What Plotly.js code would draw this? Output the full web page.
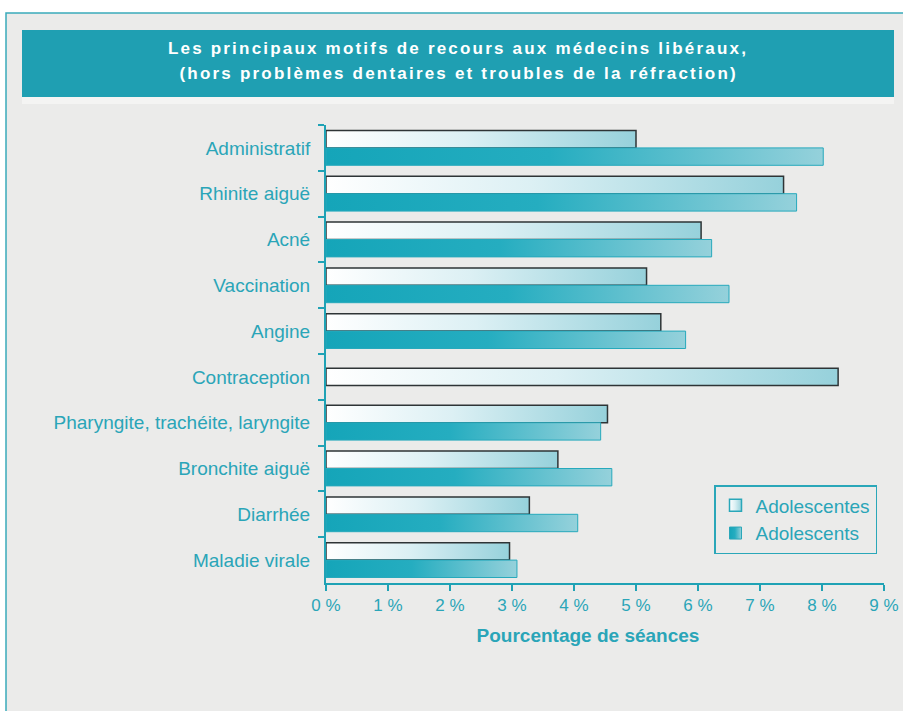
<!DOCTYPE html>
<html>
<head>
<meta charset="utf-8">
<script src="https://cdn.plot.ly/plotly-3.0.1.min.js"></script>
<style>
html,body{margin:0;padding:0;background:#ffffff;}
#chart .g-gtitle text, #chart .annotation[data-index="0"] text{letter-spacing:2.2px;}
</style>
</head>
<body>
<div id="chart" style="width:903px;height:711px;"></div>
<script>
// ---- data ----
const categories = [
  'Administratif',
  'Rhinite aiguë',
  'Acné',
  'Vaccination',
  'Angine',
  'Contraception',
  'Pharyngite, trachéite, laryngite',
  'Bronchite aiguë',
  'Diarrhée',
  'Maladie virale'
];
const adolescentes = [5.0, 7.38, 6.05, 5.17, 5.4, 8.26, 4.54, 3.74, 3.28, 2.96];
const adolescents  = [8.02, 7.59, 6.22, 6.5, 5.8, null, 4.43, 4.61, 4.06, 3.08];
const tickValues = [0, 1, 2, 3, 4, 5, 6, 7, 8, 9];
const tickLabels = ['0 %', '1 %', '2 %', '3 %', '4 %', '5 %', '6 %', '7 %', '8 %', '9 %'];
const seriesNames = ['Adolescentes', 'Adolescents'];
const titleLine1 = 'Les principaux motifs de recours aux médecins libéraux,';
const titleLine2 = '(hors problèmes dentaires et troubles de la réfraction)';
const xTitle = 'Pourcentage de séances';

// ---- styling ----
const TEAL = '#1fa2b5';
const TEXT = '#2aa5b8';
const FONT = 'Liberation Sans, Arial, sans-serif';
const BAR_W = 0.38;
const offF = adolescents.map(v => (v === null ? -BAR_W / 2 : -BAR_W));

const traces = [
  {
    type: 'bar', orientation: 'h', name: seriesNames[0], legendgroup: 'f',
    y: categories, x: adolescentes,
    width: BAR_W, offset: offF,
    marker: { color: '#d3ecf1', line: { color: '#2e3436', width: 1.5 } },
    hoverinfo: 'x+y'
  },
  {
    type: 'bar', orientation: 'h', name: seriesNames[1], legendgroup: 'm',
    y: categories, x: adolescents,
    width: BAR_W, offset: 0,
    marker: { color: '#46b9c9', line: { color: '#27a9bc', width: 1 } },
    hoverinfo: 'x+y'
  }
];

// paper coordinates helpers (plot area: x 326..884, y 125..583 px)
const L = 326, R = 884, T = 125, B = 583;
const px = v => (v - L) / (R - L);
const py = v => (B - v) / (B - T);

const layout = {
  width: 903, height: 711,
  margin: { l: L, r: 903 - R, t: T, b: 711 - B, pad: 0 },
  paper_bgcolor: '#ffffff',
  plot_bgcolor: 'rgba(0,0,0,0)',
  barmode: 'overlay',
  showlegend: true,
  font: { family: FONT, color: TEXT },
  title: {
    text: titleLine1,
    font: { family: FONT, size: 17, weight: 'bold', color: '#ffffff' },
    xref: 'container', yref: 'container',
    x: 458 / 903, xanchor: 'center',
    y: 1 - 48 / 711, yanchor: 'middle'
  },
  annotations: [
    {
      text: titleLine2, showarrow: false,
      xref: 'paper', yref: 'paper',
      x: px(458), y: py(74), xanchor: 'center', yanchor: 'middle',
      font: { family: FONT, size: 17, weight: 'bold', color: '#ffffff' }
    }
  ],
  shapes: [
    { type: 'rect', xref: 'paper', yref: 'paper', layer: 'below',
      x0: px(6), x1: px(930), y0: py(740), y1: py(13),
      fillcolor: '#ebebea', line: { color: '#3aaabb', width: 1.5 } },
    { type: 'rect', xref: 'paper', yref: 'paper', layer: 'below',
      x0: px(22), x1: px(894), y0: py(104), y1: py(97),
      fillcolor: '#f4f4f3', line: { width: 0 } },
    { type: 'rect', xref: 'paper', yref: 'paper', layer: 'below',
      x0: px(22), x1: px(894), y0: py(97), y1: py(30),
      fillcolor: '#1f9fb2', line: { width: 0 } }
  ],
  xaxis: {
    range: [0, 9], fixedrange: true,
    tickvals: tickValues, ticktext: tickLabels,
    ticks: 'outside', ticklen: 6, tickwidth: 2, tickcolor: TEAL,
    showline: true, linecolor: TEAL, linewidth: 2,
    showgrid: false, zeroline: false,
    tickfont: { family: FONT, size: 17, color: TEXT },
    title: {
      text: xTitle, standoff: 14,
      font: { family: FONT, size: 19, weight: 'bold', color: TEXT }
    }
  },
  yaxis: {
    type: 'category', autorange: 'reversed', fixedrange: true,
    ticks: 'outside', tickson: 'boundaries', ticklen: 6, tickwidth: 2, tickcolor: TEAL,
    showline: true, linecolor: TEAL, linewidth: 2,
    showgrid: false, zeroline: false,
    ticklabelstandoff: 10,
    tickfont: { family: FONT, size: 19, color: TEXT }
  },
  legend: {
    x: px(714), y: py(485), xanchor: 'left', yanchor: 'top',
    bgcolor: 'rgba(0,0,0,0)', bordercolor: '#2aa7b9', borderwidth: 1.5,
    tracegroupgap: 0,
    font: { family: FONT, size: 19, color: TEXT }
  }
};

Plotly.newPlot('chart', traces, layout, { displayModeBar: false, staticPlot: true }).then(gd => {
  // per-bar horizontal gradients, as in the reference
  const svg = gd.querySelector('svg.main-svg');
  const NS = 'http://www.w3.org/2000/svg';
  let defs = svg.querySelector('defs');
  if (!defs) { defs = document.createElementNS(NS, 'defs'); svg.insertBefore(defs, svg.firstChild); }
  const grads = {
    gradF: [['0%', '#ffffff'], ['45%', '#dcf0f4'], ['100%', '#96d1db']],
    gradM: [['0%', '#15a5b9'], ['45%', '#25adc0'], ['100%', '#95d1db']]
  };
  Object.keys(grads).forEach(id => {
    const g = document.createElementNS(NS, 'linearGradient');
    g.setAttribute('id', id);
    g.setAttribute('x1', '0'); g.setAttribute('x2', '1');
    g.setAttribute('y1', '0'); g.setAttribute('y2', '0');
    grads[id].forEach(([o, c]) => {
      const s = document.createElementNS(NS, 'stop');
      s.setAttribute('offset', o); s.setAttribute('stop-color', c);
      g.appendChild(s);
    });
    defs.appendChild(g);
  });
  const ids = ['gradF', 'gradM'];
  gd.querySelectorAll('.barlayer .trace').forEach((tr, i) => {
    tr.querySelectorAll('path').forEach(p => { p.style.fill = 'url(#' + ids[i] + ')'; });
  });
  gd.querySelectorAll('.legend .traces').forEach((tr, i) => {
    tr.querySelectorAll('.legendpoints path').forEach(p => {
      p.style.fill = 'url(#' + ids[i] + ')';
      p.style.stroke = '#2aa7b9';
    });
  });
  // the reference's axis title sits a little left of the plot centre
  const xt = gd.querySelector('.g-xtitle text');
  if (xt) { xt.setAttribute('x', String(parseFloat(xt.getAttribute('x')) - 17)); }
});
</script>
</body>
</html>
